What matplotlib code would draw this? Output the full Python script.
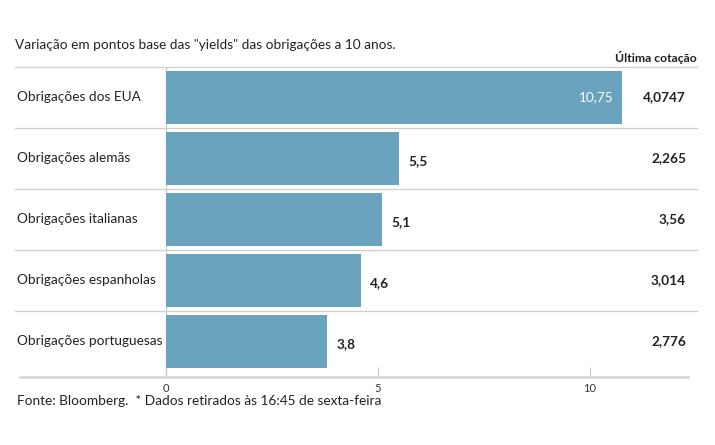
import matplotlib
matplotlib.use("Agg")
import matplotlib.pyplot as plt

categories = ["Obrigações dos EUA", "Obrigações alemãs", "Obrigações italianas",
              "Obrigações espanholas", "Obrigações portuguesas"]
values = [10.75, 5.5, 5.1, 4.6, 3.8]
value_labels = ["10,75", "5,5", "5,1", "4,6", "3,8"]
quotes = ["4,0747", "2,265", "3,56", "3,014", "2,776"]
xticks = [0, 5, 10]

title = 'Variação em pontos base das "yields" das obrigações a 10 anos.'
quote_header = "Última cotação"
footer = "Fonte: Bloomberg.  * Dados retirados às 16:45 de sexta-feira"

plt.rcParams['font.family'] = ['Lato', 'DejaVu Sans']

W, H = 715, 445
fig = plt.figure(figsize=(W / 100, H / 100), dpi=100)

def fx(px):
    return px / W

def fy(py):
    return 1 - py / H

ax_left, ax_right, ax_top, ax_bottom = 20, 688, 67, 377
ax = fig.add_axes([fx(ax_left), fy(ax_bottom), fx(ax_right - ax_left), (ax_bottom - ax_top) / H])

ppu = 42.4  # pixels per unit on x
x0_px = 166
ax.set_xlim((ax_left - x0_px) / ppu, (ax_right - x0_px) / ppu)
row_px = 61
ax.set_ylim((ax_bottom - ax_top) / row_px - 0.5, -0.5)

bar_color = "#6aa3be"
ypos = list(range(len(categories)))
ax.barh(ypos, values, height=0.88, color=bar_color, zorder=2)

# vertical zero line
ax.plot([0, 0], [-0.5, (ax_bottom - ax_top) / row_px - 0.5], color="#c8c8c8", lw=0.8, zorder=1)

# row separators
for i in range(len(categories)):
    fig.add_artist(plt.Line2D([fx(15), fx(697)], [fy(ax_top + row_px * i)] * 2,
                              color="#cfcfcf", lw=0.9))

for spine in ["top", "right", "left"]:
    ax.spines[spine].set_visible(False)
ax.spines["bottom"].set_color("#d6d6d6")
ax.spines["bottom"].set_linewidth(1.8)

ax.set_yticks([])
ax.set_xticks(xticks)
ax.set_xticklabels([str(t) for t in xticks], fontsize=8, color="#333333")
ax.tick_params(axis="x", direction="in", length=7, width=0.8, color="#c8c8c8", pad=4)

txt = "#222222"
for i, (cat, v, vl, q) in enumerate(zip(categories, values, value_labels, quotes)):
    fig.text(fx(17), fy(ax_top + row_px * i + 30), cat, fontsize=9.8, color=txt,
             ha="left", va="center")
    if v > 8:
        ax.text(v - 8 / ppu, i, vl, fontsize=9.8, color="white", ha="right", va="center")
    else:
        ax.text(v + 9 / ppu, i + 0.05, vl, fontsize=9.8, color=txt, ha="left",
                va="center", fontweight="bold")
    fig.text(fx(686), fy(ax_top + row_px * i + 30), q, fontsize=9.8, color=txt,
             ha="right", va="center", fontweight="bold")

fig.text(fx(15), fy(45), title, fontsize=9.8, color=txt, ha="left", va="center")
fig.text(fx(697), fy(57), quote_header, fontsize=8.8, color=txt, ha="right",
         va="center", fontweight="bold")
fig.text(fx(17), fy(401), footer, fontsize=9.8, color=txt, ha="left", va="center")

fig.savefig("out.png", dpi=100)
